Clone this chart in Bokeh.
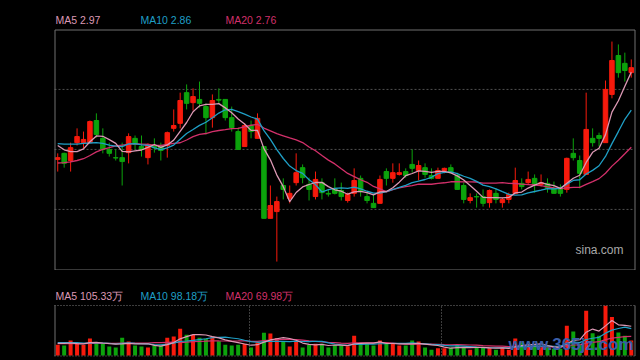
import pandas as pd
from jinja2 import Template
from bokeh.plotting import figure
from bokeh.layouts import column
from bokeh.models import Range1d, ColumnDataSource
from bokeh.core.properties import value
from bokeh.embed import file_html
from bokeh.resources import INLINE

# ---------------- data (price in CNY, volume in 万) ----------------
opens = [2.725, 2.742, 2.722, 2.772, 2.772, 2.772, 2.834, 2.784, 2.753, 2.730,
         2.730, 2.744, 2.784, 2.761, 2.730, 2.764, 2.761, 2.764, 2.812, 2.826,
         2.912, 2.884, 2.893, 2.873, 2.842, 2.893, 2.893, 2.842, 2.803, 2.761,
         2.820, 2.784, 2.761, 2.560, 2.579, 2.652, 2.616, 2.660, 2.702, 2.655,
         2.621, 2.660, 2.630, 2.644, 2.638, 2.610, 2.630, 2.672, 2.621, 2.602,
         2.602, 2.691, 2.672, 2.683, 2.691, 2.711, 2.694, 2.702, 2.680, 2.672,
         2.694, 2.702, 2.680, 2.652, 2.610, 2.621, 2.621, 2.604, 2.630, 2.604,
         2.613, 2.630, 2.658, 2.660, 2.672, 2.655, 2.658, 2.644, 2.644, 2.641,
         2.742, 2.722, 2.683, 2.784, 2.792, 2.772, 2.907, 3.016, 2.994, 2.968]
closes = [2.730, 2.714, 2.758, 2.789, 2.781, 2.831, 2.795, 2.753, 2.742, 2.729,
          2.719, 2.789, 2.767, 2.753, 2.767, 2.758, 2.750, 2.800, 2.820, 2.890,
          2.882, 2.901, 2.882, 2.842, 2.890, 2.891, 2.842, 2.814, 2.753, 2.820,
          2.803, 2.840, 2.560, 2.596, 2.607, 2.641, 2.630, 2.688, 2.674, 2.641,
          2.669, 2.632, 2.628, 2.630, 2.621, 2.627, 2.666, 2.635, 2.610, 2.590,
          2.669, 2.672, 2.688, 2.688, 2.680, 2.700, 2.708, 2.683, 2.672, 2.694,
          2.700, 2.688, 2.641, 2.613, 2.618, 2.620, 2.602, 2.638, 2.613, 2.613,
          2.627, 2.666, 2.649, 2.669, 2.655, 2.660, 2.644, 2.630, 2.630, 2.728,
          2.730, 2.686, 2.809, 2.772, 2.784, 2.921, 3.002, 2.968, 2.974, 2.982]
highs = [2.742, 2.744, 2.772, 2.812, 2.803, 2.834, 2.854, 2.812, 2.772, 2.753,
         2.772, 2.798, 2.792, 2.792, 2.770, 2.784, 2.772, 2.803, 2.865, 2.912,
         2.935, 2.924, 2.943, 2.882, 2.907, 2.924, 2.893, 2.873, 2.814, 2.826,
         2.834, 2.854, 2.761, 2.652, 2.621, 2.672, 2.652, 2.742, 2.711, 2.674,
         2.691, 2.672, 2.641, 2.672, 2.660, 2.632, 2.700, 2.680, 2.632, 2.627,
         2.680, 2.700, 2.714, 2.714, 2.700, 2.753, 2.722, 2.714, 2.700, 2.702,
         2.702, 2.711, 2.688, 2.660, 2.630, 2.630, 2.641, 2.641, 2.644, 2.618,
         2.632, 2.702, 2.672, 2.691, 2.683, 2.683, 2.672, 2.663, 2.655, 2.730,
         2.784, 2.736, 2.912, 2.812, 2.800, 2.946, 3.055, 3.047, 3.024, 3.005]
lows = [2.691, 2.702, 2.691, 2.764, 2.756, 2.772, 2.786, 2.742, 2.733, 2.722,
        2.652, 2.714, 2.753, 2.733, 2.711, 2.744, 2.722, 2.730, 2.803, 2.812,
        2.865, 2.862, 2.870, 2.795, 2.814, 2.882, 2.834, 2.803, 2.753, 2.761,
        2.784, 2.784, 2.560, 2.560, 2.439, 2.613, 2.602, 2.652, 2.658, 2.610,
        2.613, 2.613, 2.621, 2.627, 2.610, 2.604, 2.621, 2.621, 2.602, 2.590,
        2.602, 2.652, 2.660, 2.680, 2.674, 2.688, 2.666, 2.674, 2.669, 2.672,
        2.686, 2.686, 2.641, 2.602, 2.602, 2.590, 2.593, 2.590, 2.602, 2.590,
        2.602, 2.630, 2.641, 2.655, 2.632, 2.649, 2.632, 2.630, 2.621, 2.632,
        2.722, 2.644, 2.683, 2.761, 2.761, 2.772, 2.896, 2.954, 2.943, 2.954]
volumes = [39, 36, 54, 42, 38, 61, 42, 42, 32, 29,
           64, 50, 36, 32, 29, 36, 36, 64, 68, 96,
           75, 74, 64, 60, 68, 51, 39, 36, 39, 42,
           29, 48, 82, 79, 63, 50, 32, 50, 29, 38,
           42, 42, 29, 38, 36, 33, 71, 42, 42, 36,
           54, 42, 42, 36, 36, 54, 50, 29, 21, 26,
           26, 29, 38, 29, 21, 30, 30, 29, 21, 26,
           21, 61, 48, 36, 36, 30, 30, 24, 24, 107,
           86, 42, 161, 80, 71, 179, 139, 83, 71, 54]

# moving-average values before a full window is available
ma5_head = [2.764, 2.752, 2.747, 2.747]
ma10_head = [2.769, 2.768, 2.768, 2.768, 2.770, 2.771, 2.772, 2.770, 2.765]
ma20_head = [2.715, 2.716, 2.718, 2.722, 2.727, 2.736, 2.746, 2.753, 2.758, 2.763,
             2.765, 2.767, 2.769, 2.768, 2.767, 2.765, 2.764, 2.767, 2.770]
vol_ma5_head = [44, 44, 45, 43]
vol_ma10_head = [46, 46, 46, 46, 45, 45, 45, 45, 44]
vol_ma20_head = [43, 43, 43, 43, 43, 44, 44, 44, 44, 44,
                 45, 45, 45, 45, 45, 46, 46, 47, 48]

price_labels = ["MA5 2.97", "MA10 2.86", "MA20 2.76"]
volume_labels = ["MA5 105.33万", "MA10 98.18万", "MA20 69.98万"]
grid_prices = [2.921, 2.753, 2.585]
volume_dividers = [30.26, 60.05]

# ---------------- styling ----------------
RED = "#f71a0c"
GREEN = "#0ca30c"
C5, C10, C20 = "#dc98b4", "#1f9fc6", "#d2306a"
BG = "#000000"
FONT = "Liberation Sans"

n = len(closes)
xs = [i + 0.5 for i in range(n)]
colors = [RED if c >= o else GREEN for o, c in zip(opens, closes)]


def with_head(series, window, head):
    rolled = pd.Series(series, dtype=float).rolling(window).mean().tolist()
    return list(head) + rolled[window - 1:]


ma5 = with_head(closes, 5, ma5_head)
ma10 = with_head(closes, 10, ma10_head)
ma20 = with_head(closes, 20, ma20_head)
vma5 = with_head(volumes, 5, vol_ma5_head)
vma10 = with_head(volumes, 10, vol_ma10_head)
vma20 = with_head(volumes, 20, vol_ma20_head)

src = ColumnDataSource(dict(
    x=xs, top=[max(o, c) for o, c in zip(opens, closes)],
    bottom=[min(o, c) for o, c in zip(opens, closes)],
    high=highs, low=lows, color=colors, vol=volumes,
    ma5=ma5, ma10=ma10, ma20=ma20, vma5=vma5, vma10=vma10, vma20=vma20))

# ---------------- geometry (page pixels) ----------------
W = 636
BOX_L, BOX_R = 54, 634          # price / volume box, left-right
MAIN_T, MAIN_B = 29, 269        # price box top-bottom
Y_LO, Y_HI = 2.4168, 3.0888     # price at box bottom / top
H1 = 270                        # height of price canvas
VOL_T, VOL_B = 35, 85           # volume box inside the second canvas
H2 = 90
VOL_MAX = 180

SX = (BOX_R - BOX_L) / n        # px per candle slot


def px_x(px):
    return (px - BOX_L) / SX


def px_y_main(py):
    return Y_HI - (py - MAIN_T) / (MAIN_B - MAIN_T) * (Y_HI - Y_LO)


def px_y_vol(py):
    return VOL_MAX * (VOL_B - py) / (VOL_B - VOL_T)


xr = Range1d(px_x(0), px_x(W))

# ---------------- main price panel ----------------
p = figure(width=W, height=H1, x_range=xr,
           y_range=Range1d(px_y_main(H1), px_y_main(0)),
           output_backend="svg", toolbar_location=None,
           min_border=0, background_fill_color=BG, border_fill_color=BG,
           outline_line_color=None)
p.axis.visible = False
p.grid.visible = False

# dotted horizontal grid
p.segment(x0=[0] * len(grid_prices), x1=[n] * len(grid_prices), y0=grid_prices,
          y1=grid_prices, line_color="#4f4f4f", line_dash="2 2", line_width=1)

p.segment(x0="x", x1="x", y0="low", y1="high", line_color="color", line_width=1, source=src)
p.vbar(x="x", width=0.7, top="top", bottom="bottom", fill_color="color",
       line_color="color", line_width=1, source=src)
p.line(x="x", y="ma20", line_color=C20, line_width=1.3, source=src)
p.line(x="x", y="ma10", line_color=C10, line_width=1.3, source=src)
p.line(x="x", y="ma5", line_color=C5, line_width=1.3, source=src)

# price box frame
p.quad(left=[px_x(BOX_L + 0.5)], right=[px_x(BOX_R + 0.5)],
       bottom=[px_y_main(MAIN_B + 0.5)], top=[px_y_main(MAIN_T + 0.5)],
       fill_color=None, line_color="#707070", line_width=1)

p.text(x=[px_x(55), px_x(140), px_x(225)], y=[px_y_main(19)] * 3,
       text=price_labels, text_color=[C5, C10, C20], text_font=value(FONT),
       text_font_size="10.5px", text_baseline="middle", text_align="left")

p.text(x=[px_x(623)], y=[px_y_main(249)], text=["sina.com"], text_color="#a8a8a8",
       text_font=value(FONT), text_font_size="12px", text_baseline="middle",
       text_align="right")

# ---------------- volume panel ----------------
v = figure(width=W, height=H2, x_range=xr,
           y_range=Range1d(px_y_vol(H2), px_y_vol(0)),
           output_backend="svg", toolbar_location=None,
           min_border=0, background_fill_color=BG, border_fill_color=BG,
           outline_line_color=None)
v.axis.visible = False
v.grid.visible = False

v.vbar(x="x", width=0.62, top="vol", bottom=0, fill_color="color", line_color=None, source=src)

# dotted top / bottom edges and month dividers, solid sides
v.segment(x0=[0, 0], x1=[n, n], y0=[VOL_MAX, px_y_vol(VOL_B + 0.5)],
          y1=[VOL_MAX, px_y_vol(VOL_B + 0.5)], line_color="#7a7a7a",
          line_dash="1 2", line_width=1)
v.segment(x0=volume_dividers, x1=volume_dividers, y0=[0] * len(volume_dividers),
          y1=[VOL_MAX] * len(volume_dividers), line_color="#7a7a7a",
          line_dash="1 2", line_width=1)
v.segment(x0=[px_x(BOX_L + 0.5), px_x(BOX_R + 0.5)], x1=[px_x(BOX_L + 0.5), px_x(BOX_R + 0.5)],
          y0=[px_y_vol(VOL_B + 0.5)] * 2, y1=[VOL_MAX] * 2,
          line_color="#707070", line_width=1)

v.line(x="x", y="vma20", line_color=C20, line_width=1.2, source=src)
v.line(x="x", y="vma10", line_color=C10, line_width=1.2, source=src)
v.line(x="x", y="vma5", line_color=C5, line_width=1.2, source=src)

v.text(x=[px_x(55), px_x(140), px_x(225)], y=[px_y_vol(25)] * 3,
       text=volume_labels, text_color=[C5, C10, C20], text_font=value(FONT),
       text_font_size="10.5px", text_baseline="middle", text_align="left")

v.text(x=[px_x(633)], y=[px_y_vol(74)], text=["www.365jz.com"], text_color="#3a5ea8",
       text_font=value(FONT), text_font_size="17px", text_font_style="bold",
       text_baseline="middle", text_align="right")

layout = column(p, v, spacing=0)

page_template = Template("""{% extends base %}
{% block preamble %}<style>html, body { background-color: #000000; margin: 0; overflow: hidden; }</style>{% endblock %}""")

open("out.html", "w").write(file_html(layout, INLINE, title="chart", template=page_template))
